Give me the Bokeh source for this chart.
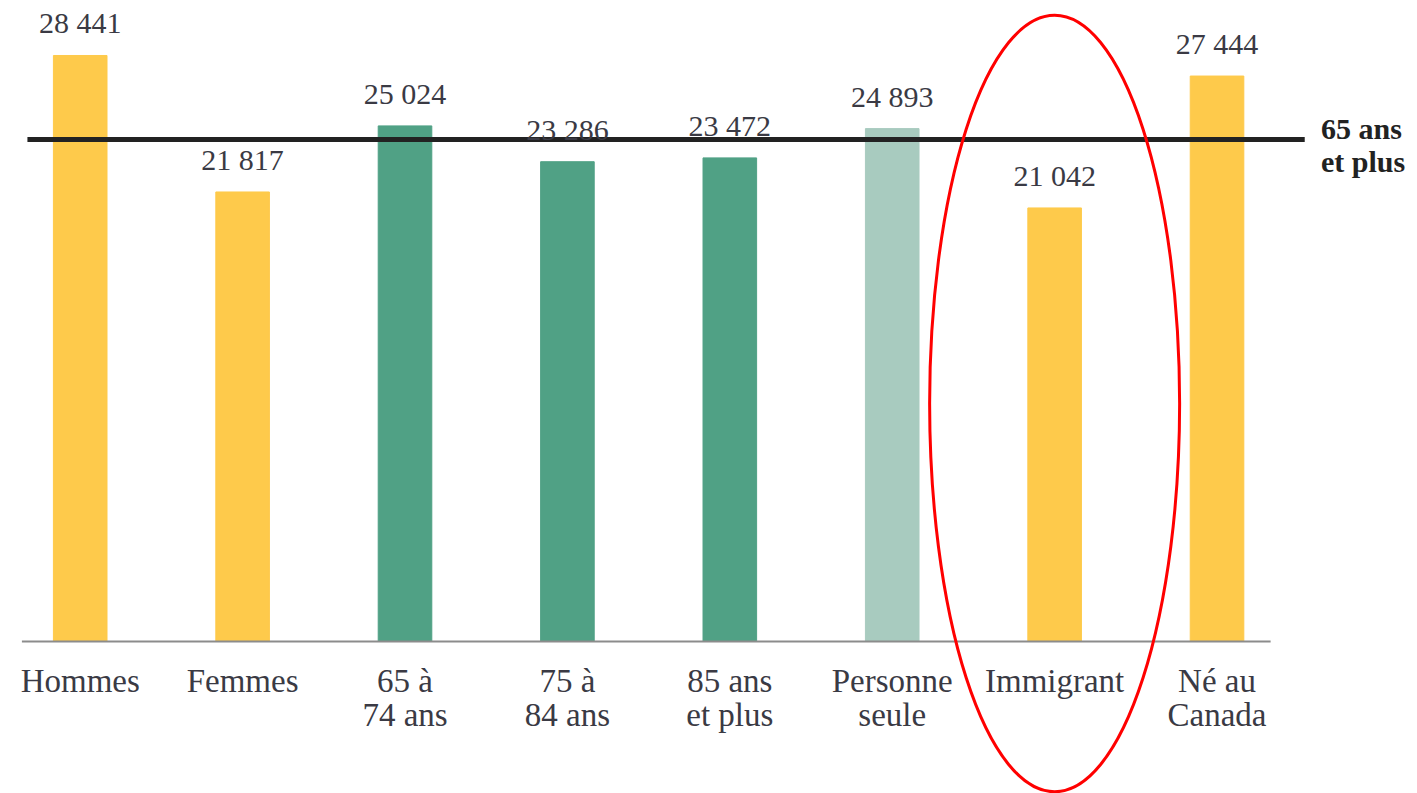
from bokeh.plotting import figure
from bokeh.models import Range1d, ColumnDataSource
from bokeh.core.properties import value
from bokeh.embed import file_html
from bokeh.resources import INLINE

categories = ["Hommes", "Femmes", "65 à\n74 ans", "75 à\n84 ans", "85 ans\net plus",
              "Personne\nseule", "Immigrant", "Né au\nCanada"]
values = [28441, 21817, 25024, 23286, 23472, 24893, 21042, 27444]
value_labels = ["28 441", "21 817", "25 024", "23 286", "23 472", "24 893", "21 042", "27 444"]
colors = ["#FECA4B", "#FECA4B", "#50A185", "#50A185", "#50A185", "#A8CBBF", "#FECA4B", "#FECA4B"]
ref_value = 24360
ref_label = "65 ans\net plus"
highlight_index = 6

xs = list(range(len(categories)))
src = ColumnDataSource(dict(x=xs, top=values, lab=value_labels, cat=categories, color=colors))

W, H = 1417, 793
p = figure(width=W, height=H, output_backend="svg", toolbar_location=None,
           x_range=Range1d(-0.4908, 8.2344), y_range=Range1d(-7377, 31110),
           min_border=0, min_border_left=0, min_border_right=0,
           min_border_top=0, min_border_bottom=0)
p.axis.visible = False
p.grid.visible = False
p.outline_line_color = None
p.background_fill_color = "white"
p.border_fill_color = "white"

FONT = value("Liberation Serif")

p.vbar(x="x", top="top", bottom=0, width=0.33, color="color", source=src)

# baseline axis
n = len(categories)
p.segment(x0=-0.359, y0=0, x1=n - 1 + 0.33, y1=0, line_color="#8c8c8c", line_width=2)

# reference line
p.segment(x0=-0.325, y0=ref_value, x1=n - 1 + 0.54, y1=ref_value, line_color="#222222", line_width=5)
p.text(x=[n - 1 + 0.64], y=[ref_value], text=[ref_label], text_font=FONT,
       text_font_style="bold", text_font_size="30px", text_color="#222222",
       text_align="left", text_baseline="middle", text_line_height=1.0, y_offset=5)

# value labels
p.text(x="x", y="top", text="lab", source=src, text_font=FONT, text_font_size="30px",
       text_color="#3a3a44", text_align="center", text_baseline="bottom", y_offset=-16)

# category labels
p.text(x="x", y=0, text="cat", source=src, text_font=FONT, text_font_size="33px",
       text_color="#3a3a44", text_align="center", text_baseline="top", y_offset=21,
       text_line_height=0.95)

# highlight ellipse
p.ellipse(x=[highlight_index], y=[11550], width=250, height=777,
          width_units="screen", height_units="screen",
          fill_alpha=0, line_color="#ff0000", line_width=3)

open("out.html", "w").write(file_html(p, INLINE))
